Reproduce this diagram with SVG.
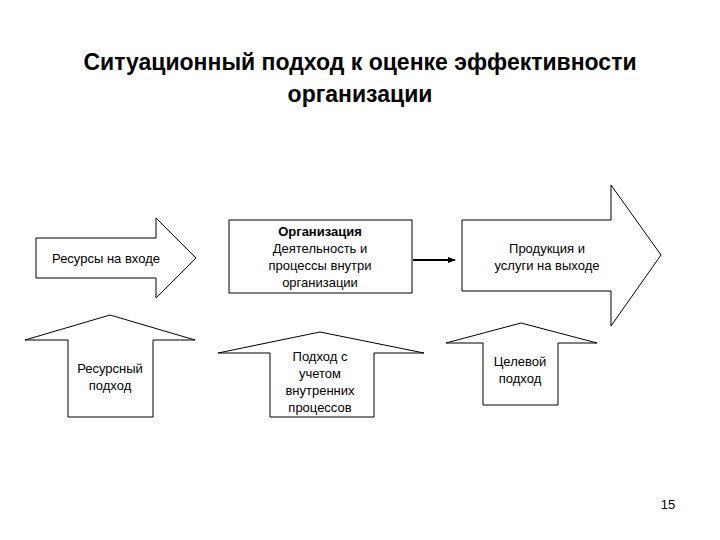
<svg xmlns="http://www.w3.org/2000/svg" width="720" height="540" viewBox="0 0 720 540">
<style>
.s{fill:#fff;stroke:#000;stroke-width:1}
.t{font-family:"Liberation Sans",Arial,sans-serif;font-size:13px;text-anchor:middle;fill:#000}
.h{font-family:"Liberation Sans",Arial,sans-serif;font-size:23px;font-weight:bold;text-anchor:middle}
</style>
<defs><marker id="a" markerWidth="8" markerHeight="8" refX="7" refY="4" orient="auto" markerUnits="userSpaceOnUse"><path d="M0,1 L8,4 L0,7 Z"/></marker></defs>
<rect width="720" height="540" fill="#fff"/>
<text class="h" x="360" y="70">Ситуационный подход к оценке эффективности</text>
<text class="h" x="360" y="102">организации</text>
<g id="inputs"><path class="s" d="M36,238 H156 V218 L196,258 L156,298 V278 H36 Z"/><text class="t" x="106" y="263">Ресурсы на входе</text></g>
<g id="org"><rect class="s" x="229" y="220" width="183" height="73"/>
<text class="t" x="320" y="236" font-weight="bold">Организация</text>
<text class="t" x="320" y="253">Деятельность и</text><text class="t" x="320" y="270">процессы внутри</text><text class="t" x="320" y="287">организации</text></g>
<g id="output"><path class="s" d="M462,220 H611 V185 L661,255 L611,326 V291 H462 Z"/>
<text class="t" x="547" y="253">Продукция и</text><text class="t" x="547" y="270">услуги на выходе</text></g>
<g id="resapp"><path class="s" d="M110,315 L195,340 H153 V417 H68 V340 H25 Z"/><text class="t" x="110" y="373">Ресурсный</text><text class="t" x="110" y="390">подход</text></g>
<g id="procapp"><path class="s" d="M320,332 L424,353 H374 V417 H270 V353 H218 Z"/><text class="t" x="320" y="361">Подход с</text><text class="t" x="320" y="378">учетом</text><text class="t" x="320" y="395">внутренних</text><text class="t" x="320" y="412">процессов</text></g>
<g id="goalapp"><path class="s" d="M521,323 L597,343 H558 V405 H483 V343 H446 Z"/><text class="t" x="520" y="366">Целевой</text><text class="t" x="520" y="383">подход</text></g>
<g id="connectors"><line x1="413" y1="260" x2="455" y2="260" stroke="#000" stroke-width="2" marker-end="url(#a)"/></g>
<text class="t" x="668" y="509">15</text>
</svg>
